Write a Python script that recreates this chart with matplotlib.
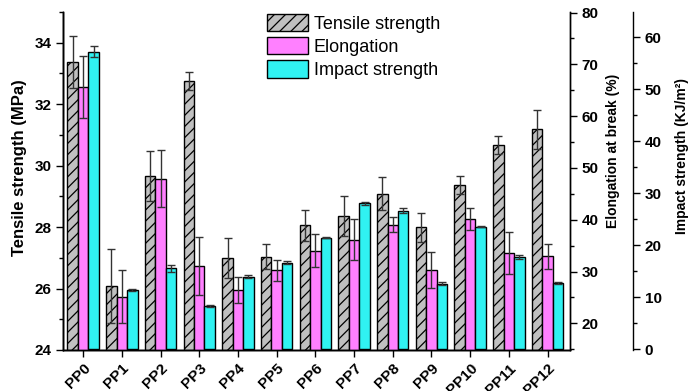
import matplotlib.pyplot as plt
import numpy as np

plt.rcParams['font.family'] = ['Liberation Sans', 'DejaVu Sans']
plt.rcParams['font.weight'] = 'bold'
plt.rcParams['hatch.linewidth'] = 0.9

# Data
samples = ['PP0', 'PP1', 'PP2', 'PP3', 'PP4', 'PP5', 'PP6',
           'PP7', 'PP8', 'PP9', 'PP10', 'PP11', 'PP12']
tensile = [33.38, 26.08, 29.66, 32.75, 26.98, 27.04, 28.06,
           28.36, 29.08, 27.99, 29.37, 30.67, 31.18]
tensile_err = [0.85, 1.2, 0.8, 0.3, 0.65, 0.4, 0.5,
               0.66, 0.54, 0.46, 0.3, 0.28, 0.63]
elongation = [65.6, 25.1, 47.9, 31.1, 26.4, 30.2, 34.0,
              36.15, 39.05, 30.3, 40.15, 33.6, 32.9]
elongation_err = [6.0, 5.1, 5.5, 5.6, 2.5, 2.0, 3.2,
                  4.0, 1.5, 3.5, 2.1, 4.0, 2.5]
impact = [57.3, 11.35, 15.6, 8.4, 14.0, 16.7, 21.5,
          28.1, 26.7, 12.6, 23.6, 17.75, 12.75]
impact_err = [1.1, 0.2, 0.7, 0.2, 0.3, 0.3, 0.1,
              0.3, 0.4, 0.3, 0.1, 0.3, 0.2]

x = np.arange(len(samples))
w = 0.27

fig = plt.figure(figsize=(6.88, 3.91), dpi=100)
ax = fig.add_axes([0.0916, 0.1049, 0.7369, 0.8644])
ax2 = ax.twinx()
ax3 = ax.twinx()

err_kw = dict(ecolor='#333333', elinewidth=1, capsize=3, capthick=1)

b1 = ax.bar(x - w, tensile, w, yerr=tensile_err, color='#c0c0c0',
            edgecolor='black', linewidth=1, hatch='///', error_kw=err_kw,
            label='Tensile strength')
b2 = ax2.bar(x, elongation, w, yerr=elongation_err, color='#ff80ff',
             edgecolor='black', linewidth=1, error_kw=err_kw,
             label='Elongation')
b3 = ax3.bar(x + w, impact, w, yerr=impact_err, color='#30f2f2',
             edgecolor='black', linewidth=1, error_kw=err_kw,
             label='Impact strength')

ax.set_xlim(-0.52, 12.58)
ax.set_ylim(24, 35)
ax2.set_ylim(14.85, 80.1)
ax3.set_ylim(-0.13, 64.9)

ax.set_xticks(x)
ax.set_xticklabels(samples, rotation=45, ha='right', rotation_mode='anchor',
                   fontsize=11, fontweight='bold')
ax.set_yticks(np.arange(24, 35, 2))
ax.set_yticks(np.arange(24, 36, 1), minor=True)
ax2.set_yticks(np.arange(20, 81, 10))
ax2.set_yticks(np.arange(15, 81, 5), minor=True)
ax3.set_yticks(np.arange(0, 61, 10))
ax3.set_yticks(np.arange(0, 65, 5), minor=True)

for a in (ax, ax2, ax3):
    a.tick_params(axis='y', which='major', length=5, width=1, labelsize=11)
    a.tick_params(axis='y', which='minor', length=3, width=1)
    for lab in a.get_yticklabels():
        lab.set_fontweight('bold')
    a.spines['top'].set_visible(False)
ax.tick_params(axis='x', length=5, width=1, pad=3)

ax3.spines['right'].set_position(('axes', 1.124))
for a in (ax, ax2, ax3):
    for s in a.spines.values():
        s.set_linewidth(1)

ax.set_ylabel('Tensile strength (MPa)', fontsize=12, fontweight='bold')
ax2.set_ylabel('Elongation at break (%)', fontsize=10, fontweight='bold')
ax3.set_ylabel('Impact strength (KJ/m²)', fontsize=10, fontweight='bold')
ax.yaxis.set_label_coords(-0.071, 0.54)
ax2.yaxis.set_label_coords(1.071, 0.59)
ax3.yaxis.set_label_coords(1.207, 0.575)

leg = ax3.legend(handles=[b1, b2, b3], loc='upper left',
                 bbox_to_anchor=(0.398, 1.0), frameon=False, fontsize=13,
                 handlelength=2.3, handleheight=1.1, labelspacing=0.25,
                 handletextpad=0.3, borderpad=0.1, borderaxespad=0)
for t in leg.get_texts():
    t.set_fontweight('normal')

fig.savefig('out.png', dpi=100)
